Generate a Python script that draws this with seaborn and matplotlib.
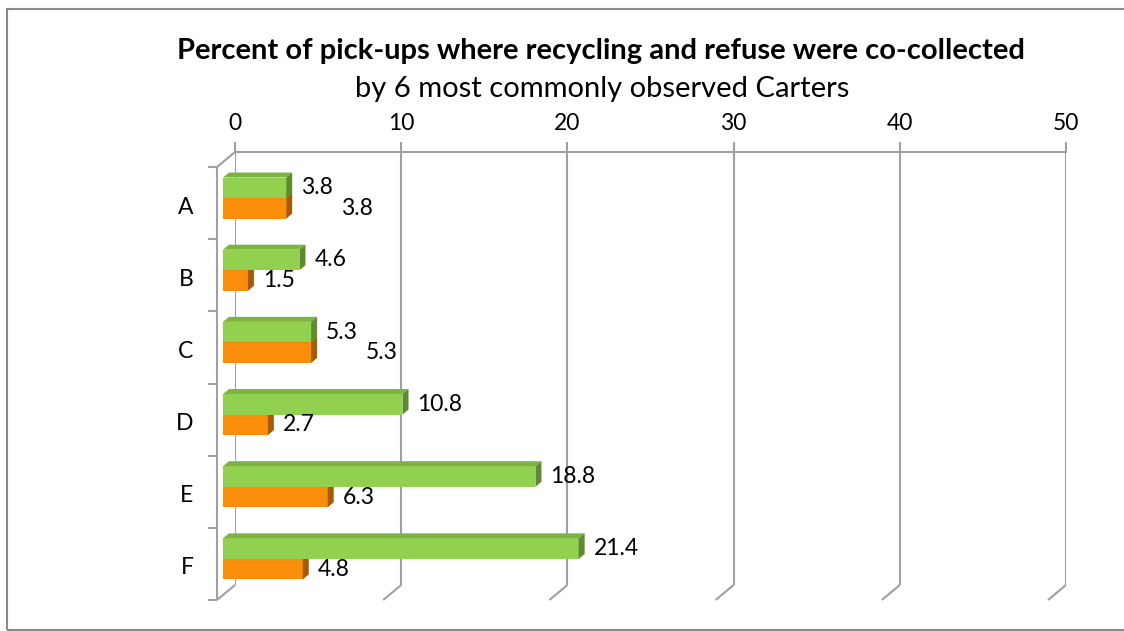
import numpy as np
import pandas as pd
import matplotlib
matplotlib.use("Agg")
import matplotlib.pyplot as plt
import seaborn as sns
from matplotlib.patches import Polygon, Rectangle
from matplotlib.lines import Line2D
from matplotlib.transforms import IdentityTransform, ScaledTranslation

# ---------------- data ----------------
carters = ["A", "B", "C", "D", "E", "F"]
series_names = ["Recycling", "Refuse"]
recycling_vals = [3.8, 4.6, 5.3, 10.8, 18.8, 21.4]
refuse_vals = [3.8, 1.5, 5.3, 2.7, 6.3, 4.8]
x_ticks = [0, 10, 20, 30, 40, 50]
title = "Percent of pick-ups where recycling and refuse were co-collected"
subtitle = "by 6 most commonly observed Carters"

# ---------------- style ----------------
GREEN = "#92D050"
GREEN_TOP = "#7DB43F"
GREEN_SIDE = "#5F8B2F"
ORANGE = "#FA8E0B"
ORANGE_TOP = "#D47606"
ORANGE_SIDE = "#A55C04"
GRID = "#A0A0A0"
BORDER = "#8A8A8A"
FS = 16.5

sns.set_theme(style="white")
plt.rcParams["font.family"] = ["Lato", "DejaVu Sans"]

W, H, DPI = 1124, 631, 100
fig = plt.figure(figsize=(W / DPI, H / DPI), dpi=DPI)
fig.patch.set_facecolor("white")

# back wall of the pseudo-3D plot area
ax = fig.add_axes([235 / W, 1 - 585 / H, (1066 - 235) / W, (585 - 152) / H])

df = pd.DataFrame({
    "carter": carters * 2,
    "value": recycling_vals + refuse_vals,
    "series": [series_names[0]] * len(carters) + [series_names[1]] * len(carters),
})
sns.barplot(data=df, x="value", y="carter", hue="series", orient="h",
            palette=[GREEN, ORANGE], width=0.57, gap=0, saturation=1,
            legend=False, errorbar=None, linewidth=0, ax=ax)

ax.set_xlim(0, 50)
ax.set_ylim(len(carters) - 0.5, -0.5)
ax.set_xlabel("")
ax.set_ylabel("")
ax.set_facecolor("none")

# top axis with ticks
ax.xaxis.tick_top()
ax.set_xticks(x_ticks)
ax.set_xticklabels([str(t) for t in x_ticks])
ax.tick_params(axis="x", length=7, width=1.5, color=GRID, labelsize=FS, pad=6,
               labelcolor="black")
for s in ["left", "right", "bottom"]:
    ax.spines[s].set_visible(False)
ax.spines["top"].set_visible(True)
ax.spines["top"].set_color(GRID)
ax.spines["top"].set_linewidth(1.5)
ax.grid(axis="x", color=GRID, linewidth=1.5)
ax.grid(axis="y", visible=False)
ax.set_axisbelow(True)

# depth of the floor (px): front plane is shifted left/down from back wall
DX, DY = -18, -15
px = lambda v: v / DPI

# category labels on the front plane
ax.tick_params(axis="y", length=0, pad=17, labelsize=FS, labelcolor="black")
for lbl in ax.get_yticklabels():
    lbl.set_transform(lbl.get_transform() +
                      ScaledTranslation(px(DX), px(DY - 2), fig.dpi_scale_trans))

ident = IdentityTransform()

def add_line(xs, ys):
    ln = Line2D(xs, ys, color=GRID, linewidth=1.5, transform=ident,
                clip_on=False, zorder=0.6, solid_capstyle="butt")
    ax.add_line(ln)

# floor diagonals at each gridline
for t in x_ticks:
    bx, by = ax.transData.transform((t, len(carters) - 0.5))
    add_line([bx, bx + DX], [by, by + DY])
# top-left diagonal and front vertical axis
tlx, tly = ax.transAxes.transform((0, 1))
blx, bly = ax.transAxes.transform((0, 0))
add_line([tlx, tlx + DX], [tly, tly + DY])
add_line([tlx + DX, blx + DX], [tly + DY, bly + DY])
# category boundary ticks on the front axis
for b in np.arange(-0.5, len(carters), 1.0):
    _, yb = ax.transData.transform((0, b))
    add_line([tlx + DX - 9, tlx + DX], [yb + DY, yb + DY])

# ---------------- 3D bars ----------------
BFX, BFY = -12, -10   # bar front face offset from back wall
BD = (6, 5)           # bar depth (px)
bar_tr = ax.transData + ScaledTranslation(px(BFX), px(BFY), fig.dpi_scale_trans)

patches = list(ax.patches)
n = len(carters)
groups = [(patches[:n], GREEN_TOP, GREEN_SIDE, 3),
          (patches[n:2 * n], ORANGE_TOP, ORANGE_SIDE, 2)]
for plist, ctop, cside, z in groups:
    for p in plist:
        p.set_transform(bar_tr)
        p.set_clip_on(False)
        p.set_zorder(z)
        x0, y0 = p.get_x(), p.get_y()
        x1, y1 = x0 + p.get_width(), y0 + p.get_height()
        (ax0, ay0), (ax1, ay1) = bar_tr.transform([(x0, y0), (x1, y1)])
        left, right = min(ax0, ax1), max(ax0, ax1)
        bot, top = min(ay0, ay1), max(ay0, ay1)
        top_face = Polygon([(left, top), (right, top), (right + BD[0], top + BD[1]),
                            (left + BD[0], top + BD[1])], closed=True,
                           facecolor=ctop, edgecolor="none", transform=ident,
                           clip_on=False, zorder=z + 0.1)
        side_face = Polygon([(right, bot), (right, top), (right + BD[0], top + BD[1]),
                             (right + BD[0], bot + BD[1])], closed=True,
                            facecolor=cside, edgecolor="none", transform=ident,
                            clip_on=False, zorder=z + 0.1)
        ax.add_patch(top_face)
        ax.add_patch(side_face)

# ---------------- data labels ----------------
renderer = fig.canvas.get_renderer()
LPAD = 15 * 0.72  # points
green_labels = []
for p, v in zip(patches[:n], recycling_vals):
    yc = p.get_y() + p.get_height() / 2
    t = ax.annotate(f"{v:.1f}", xy=(p.get_x() + p.get_width(), yc), xycoords=bar_tr,
                    xytext=(LPAD, 0), textcoords="offset points",
                    ha="left", va="center", fontsize=FS, color="black",
                    zorder=6, annotation_clip=False)
    green_labels.append(t)
for p, v, gl in zip(patches[n:2 * n], refuse_vals, green_labels):
    yc = p.get_y() + p.get_height() / 2
    t = ax.annotate(f"{v:.1f}", xy=(p.get_x() + p.get_width(), yc), xycoords=bar_tr,
                    xytext=(LPAD, 0), textcoords="offset points",
                    ha="left", va="center", fontsize=FS, color="black",
                    zorder=6, annotation_clip=False)
    gb = gl.get_window_extent(renderer)
    ob = t.get_window_extent(renderer)
    # avoid collision with the label of the other series (Excel-like)
    if ob.x0 < gb.x1 + 4 and ob.x1 > gb.x0 - 4:
        shift = (gb.x1 + 8 - ob.x0) * 0.72
        t.set_position((LPAD + shift, 0))

# ---------------- titles & border ----------------
fig.text(601 / W, 1 - 59 / H, title, ha="center", va="baseline",
         fontsize=21, fontweight="bold", color="black")
fig.text(602 / W, 1 - 97 / H, subtitle, ha="center", va="baseline",
         fontsize=21, color="black")

border = Rectangle((7 / W, 1 - 630 / H), 1.2, (630 - 9) / H, transform=fig.transFigure,
                   facecolor="none", edgecolor=BORDER, linewidth=1.5, clip_on=False)
fig.add_artist(border)

fig.savefig("out.png", dpi=DPI)
